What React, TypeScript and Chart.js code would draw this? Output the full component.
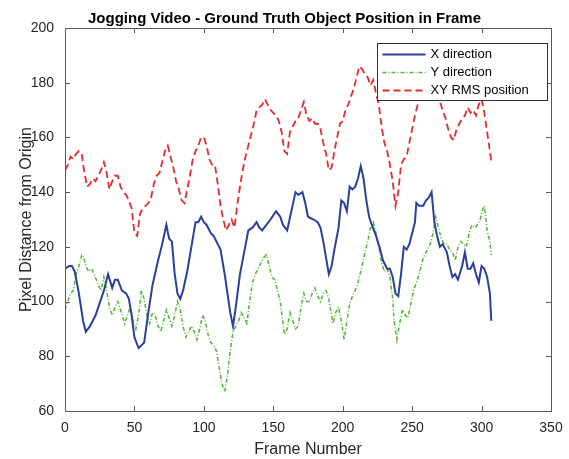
import React, { useEffect, useRef } from "react";
import { Chart, registerables } from "chart.js";

Chart.register(...registerables);

const FONT = "'Liberation Sans', Arial, Helvetica, sans-serif";

const titleText = "Jogging Video - Ground Truth Object Position in Frame";
const xAxisTitle = "Frame Number";
const yAxisTitle = "Pixel Distance from Origin";
const seriesNames = ["X direction", "Y direction", "XY RMS position"];

const xDirFrames = [0, 3, 5, 7, 10, 13, 15, 18, 22, 26, 28, 31, 34, 36, 38, 41, 44, 46, 48, 50, 53, 55, 57, 60, 63, 67, 70, 73, 75, 77, 79, 81, 83, 85, 88, 91, 94, 96, 98, 100, 102, 105, 107, 110, 112, 115, 117, 119, 121, 123, 126, 129, 132, 135, 138, 140, 142, 145, 148, 152, 155, 157, 160, 163, 166, 168, 171, 173, 175, 179, 182, 184, 186, 188, 190, 192, 194, 197, 199, 201, 203, 205, 207, 209, 211, 213, 215, 217, 219, 221, 224, 227, 229, 232, 234, 236, 238, 240, 242, 244, 246, 248, 250, 252, 253, 255, 258, 260, 262, 264, 266, 268, 270, 272, 275, 277, 279, 281, 283, 286, 288, 290, 292, 294, 296, 298, 300, 302, 304, 306, 307];
const xDirValues = [112, 113, 113, 111, 103, 93, 89, 91, 95, 101, 104, 110, 105, 108, 108, 104, 103, 101, 95, 87, 83, 84, 85, 96, 106, 115, 121, 128, 123, 122, 110, 103, 101, 104, 111, 120, 129, 129, 131, 129, 128, 125, 124, 121, 119, 110, 103, 96, 91, 98, 110, 118, 126, 127, 129, 127, 126, 128, 130, 133, 131, 128, 126, 133, 140, 139, 140, 136, 131, 130, 129, 127, 122, 116, 110, 113, 119, 127, 137, 136, 133, 142, 141, 142, 145, 149.5, 145, 137, 131, 128, 124, 119, 115, 112, 112, 109, 103, 102, 110, 120, 119, 121, 125, 129, 136, 135, 135, 137, 138, 140, 129, 124, 120, 121, 118, 113, 109, 110, 108, 113, 118, 112, 112, 114, 110, 107, 113, 112, 109, 103, 93];

const yDirFrames = [0, 2, 4, 6, 8, 10, 12, 13, 15, 17, 19, 21, 24, 26, 28, 30, 32, 34, 36, 38, 40, 43, 45, 47, 49, 51, 53, 55, 57, 59, 61, 63, 65, 67, 69, 71, 73, 75, 77, 79, 81, 83, 85, 87, 89, 91, 93, 95, 97, 99, 101, 103, 105, 107, 109, 111, 113, 115, 117, 119, 121, 123, 125, 127, 129, 131, 133, 135, 137, 139, 141, 143, 145, 147, 149, 151, 153, 155, 157, 158, 160, 162, 164, 166, 168, 170, 172, 174, 176, 178, 180, 182, 184, 186, 188, 190, 192, 193, 195, 197, 199, 201, 203, 205, 207, 209, 211, 213, 216, 218, 220, 222, 224, 226, 228, 230, 232, 234, 236, 237, 239, 241, 243, 245, 247, 249, 251, 253, 255, 258, 260, 263, 265, 267, 269, 271, 273, 275, 277, 279, 281, 283, 285, 287, 289, 291, 293, 295, 297, 299, 301, 302, 304, 306, 307];
const yDirValues = [97, 100, 103, 104, 110, 113, 117, 117, 113, 111, 112, 110, 106, 104, 109, 104, 98, 95, 98, 100, 97, 92, 95, 98, 93, 90, 95, 104, 101, 95, 92, 96, 95, 91, 89, 93, 97, 94, 91, 95, 100, 97, 91, 87, 89, 91, 89, 86, 90, 95, 93, 88, 85, 84, 82, 76, 70, 67, 73, 82, 89, 91, 93, 96, 94, 92, 100, 107, 110, 112, 114, 116, 117, 113, 109, 108, 104, 100, 92, 88, 90, 96, 93, 90, 91, 98, 103, 100, 100, 103, 105, 102, 100, 103, 104, 101, 95, 92, 96, 98, 93, 86, 93, 99, 102, 104, 107, 111, 118, 122, 127, 129, 125, 120, 114, 111, 112, 109, 101, 93, 86, 92, 97, 95, 94, 99, 104, 107, 110, 116, 118, 121, 125, 131, 127, 123, 121, 121, 119, 118, 115, 120, 122, 121, 120, 125, 128, 127, 128, 130, 134, 135, 126, 122, 117];

const rmsFrames = [0, 2, 4, 6, 8, 10, 12, 14, 16, 18, 20, 22, 24, 26, 28, 30, 32, 34, 36, 38, 40, 42, 44, 46, 48, 50, 52, 54, 56, 58, 60, 62, 64, 66, 68, 70, 72, 74, 76, 78, 80, 82, 84, 86, 88, 90, 92, 94, 96, 98, 100, 102, 104, 106, 108, 110, 112, 114, 116, 118, 120, 122, 124, 126, 128, 130, 132, 134, 136, 138, 140, 142, 144, 146, 148, 150, 152, 154, 156, 158, 160, 162, 164, 166, 168, 170, 172, 174, 176, 178, 180, 182, 184, 186, 188, 190, 192, 194, 196, 198, 200, 202, 204, 206, 208, 210, 212, 214, 216, 218, 220, 222, 224, 226, 228, 230, 232, 234, 236, 238, 240, 242, 244, 246, 248, 250, 252, 254, 256, 258, 260, 262, 264, 266, 268, 270, 272, 274, 276, 278, 280, 282, 284, 286, 288, 290, 292, 294, 296, 298, 300, 302, 304, 306, 307];
const rmsValues = [148, 150, 153, 152, 154, 155, 154, 147, 142, 143, 145, 144, 146, 148, 151, 147, 141, 144, 146, 146, 142, 140, 139, 137, 134, 125, 124, 132, 134, 135, 136, 138, 143, 146, 147, 151, 155, 157, 153, 149, 144, 141, 137, 136, 141, 146, 152, 155, 157, 160, 160, 157, 152, 150, 150, 143, 135, 130, 126, 128, 130, 127, 135, 142, 148, 153, 157, 161, 165, 170, 171, 172, 174, 172, 170, 169, 168, 166, 162, 155, 154, 162, 164, 166, 167, 170, 173, 168, 166, 167, 165, 165, 163, 158, 154, 148, 149, 155, 160, 165, 166, 170, 172, 175, 178, 182, 186, 185, 183, 182, 179, 181, 176, 172, 164, 158, 155, 150, 144, 135, 140, 150, 152, 153, 158, 163, 168, 172, 177, 180, 181, 182, 181, 180, 177, 173, 170, 167, 163, 160, 159, 163, 165, 167, 168, 171, 169, 170, 168, 172, 174, 169, 162, 155, 151];

const xTickStep = 50;
const yTickStep = 20;

const colors = ["#2b3f9c", "#55b534", "#e62a2f"];
const widths = [2, 1.5, 1.8];
const dashes: number[][] = [[], [4, 2, 1, 2], [7, 4]];

const toPoints = (fs: number[], vs: number[]) => fs.map((f, i) => ({ x: f, y: vs[i] }));

const boxPlugin = {
  id: "matlabBox",
  afterDatasetsDraw(chart: any) {
    const { ctx, chartArea: a, scales } = chart;
    ctx.save();
    ctx.strokeStyle = "#5a5a5a";
    ctx.lineWidth = 1;
    ctx.setLineDash([]);
    ctx.strokeRect(Math.round(a.left) + 0.5, Math.round(a.top) + 0.5, Math.round(a.right - a.left), Math.round(a.bottom - a.top));
    const tl = 5;
    ctx.beginPath();
    for (const t of scales.x.ticks) {
      const px = Math.round(scales.x.getPixelForValue(t.value)) + 0.5;
      ctx.moveTo(px, a.bottom);
      ctx.lineTo(px, a.bottom - tl);
      ctx.moveTo(px, a.top);
      ctx.lineTo(px, a.top + tl);
    }
    for (const t of scales.y.ticks) {
      const py = Math.round(scales.y.getPixelForValue(t.value)) + 0.5;
      ctx.moveTo(a.left, py);
      ctx.lineTo(a.left + tl, py);
      ctx.moveTo(a.right, py);
      ctx.lineTo(a.right - tl, py);
    }
    ctx.stroke();
    ctx.restore();
  },
};

const legendPlugin = {
  id: "matlabLegend",
  afterDraw(chart: any) {
    const { ctx, chartArea: a } = chart;
    const w = 170;
    const h = 57;
    const left = Math.round(a.right - 4 - w) + 0.5;
    const top = Math.round(a.top + 15) + 0.5;
    ctx.save();
    ctx.fillStyle = "#ffffff";
    ctx.fillRect(left, top, w, h);
    ctx.strokeStyle = "#333333";
    ctx.lineWidth = 1;
    ctx.setLineDash([]);
    ctx.strokeRect(left, top, w, h);
    ctx.font = `13px ${FONT}`;
    ctx.textBaseline = "middle";
    ctx.textAlign = "left";
    seriesNames.forEach((name, i) => {
      const y = top + 11 + i * 18;
      ctx.beginPath();
      ctx.strokeStyle = colors[i];
      ctx.lineWidth = widths[i];
      ctx.setLineDash(dashes[i]);
      ctx.moveTo(left + 5, y);
      ctx.lineTo(left + 48, y);
      ctx.stroke();
      ctx.setLineDash([]);
      ctx.fillStyle = "#000000";
      ctx.fillText(name, left + 53, y);
    });
    ctx.restore();
  },
};

export default function App() {
  const ref = useRef<HTMLCanvasElement | null>(null);

  useEffect(() => {
    if (!ref.current) return;
    Chart.defaults.font.family = FONT;
    const series = [
      toPoints(xDirFrames, xDirValues),
      toPoints(yDirFrames, yDirValues),
      toPoints(rmsFrames, rmsValues),
    ];
    const chart = new Chart(ref.current, {
      type: "line",
      data: {
        datasets: series.map((d, i) => ({
          label: seriesNames[i],
          data: d,
          borderColor: colors[i],
          backgroundColor: colors[i],
          borderWidth: widths[i],
          borderDash: dashes[i],
          pointRadius: 0,
          tension: 0,
          fill: false,
        })),
      },
      options: {
        animation: false,
        responsive: true,
        maintainAspectRatio: false,
        parsing: false as any,
        layout: { padding: { left: 0, right: 0, top: 0, bottom: 0 } },
        plugins: {
          legend: { display: false },
          tooltip: { enabled: false },
          title: {
            display: true,
            text: titleText,
            color: "#000000",
            font: { size: 15, weight: "bold", family: FONT },
            padding: { top: 10, bottom: 0 },
          },
        },
        scales: {
          x: {
            type: "linear",
            min: 0,
            max: 350,
            afterFit: (s: any) => {
              s.height = 48;
              s.paddingRight = 18;
              s.paddingLeft = 0;
            },
            grid: { display: true, drawOnChartArea: false, drawTicks: false },
            border: { display: false },
            ticks: { stepSize: xTickStep, padding: 9, color: "#262626", font: { size: 14, family: FONT }, maxRotation: 0 },
            title: { display: true, text: xAxisTitle, color: "#262626", font: { size: 16, family: FONT }, padding: { top: 0, bottom: 0 } },
          },
          y: {
            type: "linear",
            min: 60,
            max: 200,
            afterFit: (s: any) => {
              s.width = 65;
            },
            grid: { display: true, drawOnChartArea: false, drawTicks: false },
            border: { display: false },
            ticks: { stepSize: yTickStep, padding: 11, color: "#262626", font: { size: 14, family: FONT } },
            title: { display: true, text: yAxisTitle, color: "#262626", font: { size: 16, family: FONT }, padding: { top: 17, bottom: 0 } },
          },
        },
      },
      plugins: [boxPlugin, legendPlugin],
    });
    return () => chart.destroy();
  }, []);

  return (
    <div style={{ position: "fixed", left: 0, top: 0, width: 569, height: 459, background: "#ffffff" }}>
      <canvas ref={ref} />
    </div>
  );
}
